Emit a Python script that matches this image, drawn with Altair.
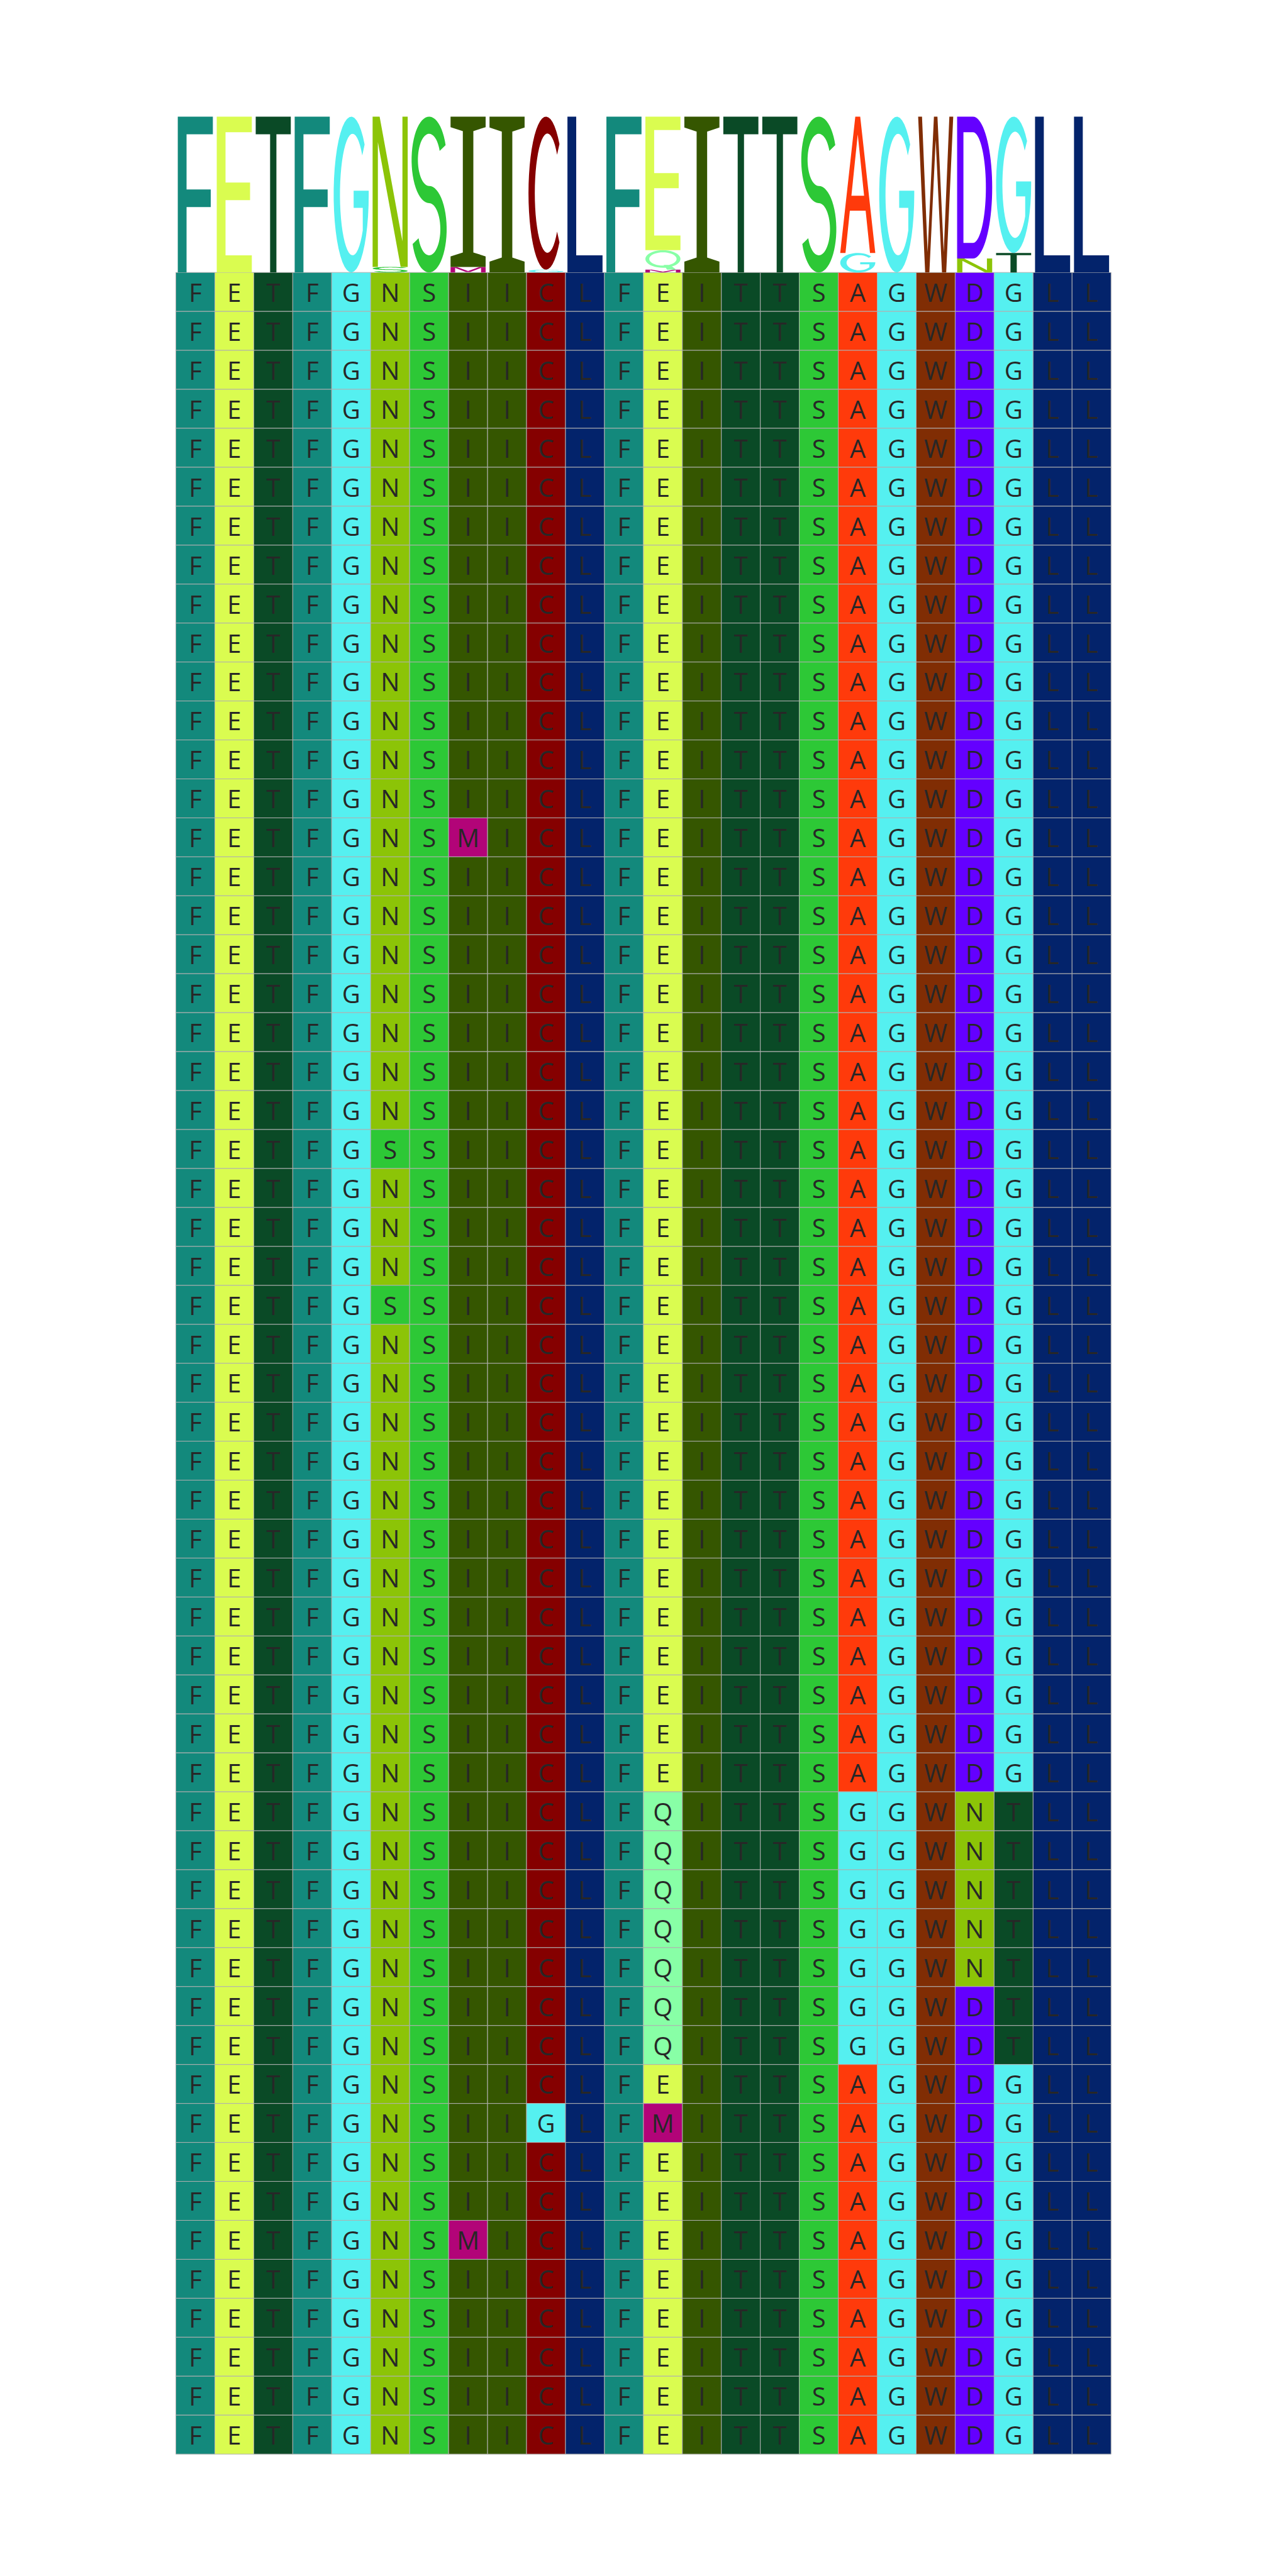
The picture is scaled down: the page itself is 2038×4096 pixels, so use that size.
import math
from collections import Counter

import altair as alt
import pandas as pd

# ---------------- data ----------------
POSITIONS = list(range(1, 25))

SEQUENCES = [
    "FETFGNSIICLFEITTSAGWDGLL",  # 1
    "FETFGNSIICLFEITTSAGWDGLL",
    "FETFGNSIICLFEITTSAGWDGLL",
    "FETFGNSIICLFEITTSAGWDGLL",
    "FETFGNSIICLFEITTSAGWDGLL",
    "FETFGNSIICLFEITTSAGWDGLL",
    "FETFGNSIICLFEITTSAGWDGLL",
    "FETFGNSIICLFEITTSAGWDGLL",
    "FETFGNSIICLFEITTSAGWDGLL",
    "FETFGNSIICLFEITTSAGWDGLL",  # 10
    "FETFGNSIICLFEITTSAGWDGLL",
    "FETFGNSIICLFEITTSAGWDGLL",
    "FETFGNSIICLFEITTSAGWDGLL",
    "FETFGNSIICLFEITTSAGWDGLL",
    "FETFGNSMICLFEITTSAGWDGLL",  # 15
    "FETFGNSIICLFEITTSAGWDGLL",
    "FETFGNSIICLFEITTSAGWDGLL",
    "FETFGNSIICLFEITTSAGWDGLL",
    "FETFGNSIICLFEITTSAGWDGLL",
    "FETFGNSIICLFEITTSAGWDGLL",  # 20
    "FETFGNSIICLFEITTSAGWDGLL",
    "FETFGNSIICLFEITTSAGWDGLL",
    "FETFGSSIICLFEITTSAGWDGLL",  # 23
    "FETFGNSIICLFEITTSAGWDGLL",
    "FETFGNSIICLFEITTSAGWDGLL",
    "FETFGNSIICLFEITTSAGWDGLL",
    "FETFGSSIICLFEITTSAGWDGLL",  # 27
    "FETFGNSIICLFEITTSAGWDGLL",
    "FETFGNSIICLFEITTSAGWDGLL",
    "FETFGNSIICLFEITTSAGWDGLL",  # 30
    "FETFGNSIICLFEITTSAGWDGLL",
    "FETFGNSIICLFEITTSAGWDGLL",
    "FETFGNSIICLFEITTSAGWDGLL",
    "FETFGNSIICLFEITTSAGWDGLL",
    "FETFGNSIICLFEITTSAGWDGLL",
    "FETFGNSIICLFEITTSAGWDGLL",
    "FETFGNSIICLFEITTSAGWDGLL",
    "FETFGNSIICLFEITTSAGWDGLL",
    "FETFGNSIICLFEITTSAGWDGLL",
    "FETFGNSIICLFQITTSGGWNTLL",  # 40
    "FETFGNSIICLFQITTSGGWNTLL",
    "FETFGNSIICLFQITTSGGWNTLL",
    "FETFGNSIICLFQITTSGGWNTLL",
    "FETFGNSIICLFQITTSGGWNTLL",
    "FETFGNSIICLFQITTSGGWDTLL",  # 45
    "FETFGNSIICLFQITTSGGWDTLL",
    "FETFGNSIICLFEITTSAGWDGLL",
    "FETFGNSIIGLFMITTSAGWDGLL",  # 48
    "FETFGNSIICLFEITTSAGWDGLL",
    "FETFGNSIICLFEITTSAGWDGLL",
    "FETFGNSMICLFEITTSAGWDGLL",  # 51
    "FETFGNSIICLFEITTSAGWDGLL",
    "FETFGNSIICLFEITTSAGWDGLL",
    "FETFGNSIICLFEITTSAGWDGLL",
    "FETFGNSIICLFEITTSAGWDGLL",
    "FETFGNSIICLFEITTSAGWDGLL",  # 56
]

# ---------------- styles ----------------
LETTER_COLORS = {
    "F": "#13897c",
    "E": "#dafc50",
    "T": "#0a4a26",
    "G": "#55f0f0",
    "N": "#8cc407",
    "S": "#2dc836",
    "I": "#355600",
    "C": "#850000",
    "L": "#03236b",
    "A": "#ff3a0b",
    "W": "#802d04",
    "D": "#6400ff",
    "Q": "#88ffa6",
    "M": "#b20478",
}

SCALE = 0.6793
CELL = 91.19 * SCALE
N_COLS = len(POSITIONS)
N_ROWS = len(SEQUENCES)
LOGO_ROWS = 4
GLYPH_W = 0.9 * CELL
LOGO_H = LOGO_ROWS * CELL
PAD_LEFT = 411.5 * SCALE
PAD_TOP = 273.0 * SCALE
PLOT_W = CELL * N_COLS
PLOT_H = CELL * (N_ROWS + LOGO_ROWS)


# ---------------- glyph outlines (unit box, v up) ----------------
def arc(cx, cy, rx, ry, a0, a1, n=40):
    pts = []
    for k in range(n + 1):
        t = math.radians(a0 + (a1 - a0) * k / n)
        pts.append((cx + rx * math.cos(t), cy + ry * math.sin(t)))
    return pts


def make_glyphs():
    g = {}
    g["F"] = [[(0, 0), (0.25, 0), (0.25, 0.42), (0.94, 0.42), (0.94, 0.533),
               (0.25, 0.533), (0.25, 0.887), (1, 0.887), (1, 1), (0, 1)]]
    g["E"] = [[(0, 0), (1, 0), (1, 0.11), (0.25, 0.11), (0.25, 0.464), (0.95, 0.464),
               (0.95, 0.577), (0.25, 0.577), (0.25, 0.9), (1, 0.9), (1, 1), (0, 1)]]
    g["T"] = [[(0, 1), (1, 1), (1, 0.887), (0.59, 0.887), (0.59, 0), (0.41, 0),
               (0.41, 0.887), (0, 0.887)]]
    g["I"] = [[(0, 1), (1, 1), (1, 0.93), (0.65, 0.904), (0.65, 0.096), (1, 0.07),
               (1, 0), (0, 0), (0, 0.07), (0.35, 0.096), (0.35, 0.904), (0, 0.93)]]
    g["L"] = [[(0, 1), (0.25, 1), (0.25, 0.11), (1, 0.11), (1, 0), (0, 0)]]
    g["N"] = [[(0, 0), (0.15, 0), (0.15, 0.83), (0.8, 0), (1, 0), (1, 1), (0.85, 1),
               (0.85, 0.17), (0.2, 1), (0, 1)]]
    g["M"] = [[(0, 0), (0.13, 0), (0.13, 0.82), (0.44, 0.08), (0.56, 0.08),
               (0.87, 0.82), (0.87, 0), (1, 0), (1, 1), (0.82, 1), (0.5, 0.26),
               (0.18, 1), (0, 1)]]
    g["W"] = [[(0, 1), (0.11, 1), (0.27, 0.13), (0.45, 1), (0.55, 1), (0.73, 0.13),
               (0.89, 1), (1, 1), (0.8, 0), (0.68, 0), (0.5, 0.85), (0.32, 0), (0.2, 0)]]
    g["A"] = [[(0, 0), (0.15, 0), (0.275, 0.31), (0.725, 0.31), (0.85, 0), (1, 0),
               (0.57, 1), (0.43, 1)],
              [(0.319, 0.42), (0.5, 0.87), (0.681, 0.42)]]
    g["D"] = [[(0, 0)] + arc(0.45, 0.5, 0.55, 0.5, -90, 90) + [(0, 1)],
              [(0.18, 0.11), (0.18, 0.89)] + arc(0.45, 0.5, 0.37, 0.39, 90, -90)]
    g["C"] = [arc(0.5, 0.5, 0.5, 0.5, 40, 320) + arc(0.54, 0.5, 0.36, 0.39, 320, 40)]
    th = math.degrees(math.acos((0.83 - 0.54) / 0.36))
    g["G"] = [arc(0.5, 0.5, 0.5, 0.5, 40, 360)
              + [(1, 0.525), (0.57, 0.525), (0.57, 0.415), (0.83, 0.415)]
              + arc(0.54, 0.5, 0.36, 0.39, 360 - th, 40)]
    ty, tx = 0.055, 0.09
    ry, rx = (0.5 - ty) / 2, 0.5 - tx
    cu, cl = 0.5 + ry, 0.5 - ry
    g["S"] = [arc(0.5, cu, rx + tx, ry + ty, 20, 270)
              + arc(0.5, cl, rx - tx, ry - ty, 90, -160)
              + arc(0.5, cl, rx + tx, ry + ty, -160, 90)
              + arc(0.5, cu, rx - tx, ry - ty, 270, 20)]
    g["Q"] = [arc(0.5, 0.55, 0.5, 0.45, 0, 360),
              arc(0.5, 0.55, 0.39, 0.34, 360, 0),
              [(0.62, 0.0), (0.88, 0.0), (0.7, 0.24), (0.52, 0.24)]]
    return g


GLYPHS = make_glyphs()


def glyph_path(letter, w, h):
    parts = []
    for contour in GLYPHS[letter]:
        pts = [f"{(u - 0.5) * w:.2f},{(0.5 - v) * h:.2f}" for u, v in contour]
        parts.append("M" + "L".join(pts) + "Z")
    return "".join(parts)


# ---------------- tables ----------------
cell_rows = []
for i, seq in enumerate(SEQUENCES):
    for j, ch in enumerate(seq):
        cell_rows.append({
            "x0": j, "x1": j + 1, "y0": i, "y1": i + 1,
            "xc": j + 0.5, "yc": i + 0.5,
            "letter": ch, "color": LETTER_COLORS[ch],
        })
cells = pd.DataFrame(cell_rows)

logo_rows = []
for j in range(N_COLS):
    counts = Counter(seq[j] for seq in SEQUENCES)
    items = sorted(counts.items(), key=lambda kv: kv[1])
    cum = 0.0
    for letter, c in items:
        frac = c / N_ROWS
        center = cum + frac / 2
        cum += frac
        logo_rows.append({
            "xc": j + 0.5,
            "yc": -LOGO_ROWS * center,
            "letter": letter,
            "color": LETTER_COLORS[letter],
            "path": glyph_path(letter, GLYPH_W, frac * LOGO_H),
        })
logo = pd.DataFrame(logo_rows)

# ---------------- chart ----------------
xs = alt.Scale(domain=[0, N_COLS], nice=False, zero=False)
ys = alt.Scale(domain=[-LOGO_ROWS, N_ROWS], reverse=True, nice=False, zero=False)

rects = alt.Chart(cells).mark_rect(stroke="#b0b0b0", strokeWidth=1).encode(
    x=alt.X("x0:Q", scale=xs, axis=None),
    x2="x1:Q",
    y=alt.Y("y0:Q", scale=ys, axis=None),
    y2="y1:Q",
    fill=alt.Fill("color:N", scale=None),
)

texts = alt.Chart(cells).mark_text(
    font="Open Sans", fontSize=40, color="#272727",
    baseline="alphabetic", align="center", dy=15.8,
).encode(
    x=alt.X("xc:Q", scale=xs, axis=None),
    y=alt.Y("yc:Q", scale=ys, axis=None),
    text="letter:N",
)

glyphs = alt.Chart(logo).mark_point(
    filled=True, opacity=1, strokeWidth=0, size=4,
).encode(
    x=alt.X("xc:Q", scale=xs, axis=None),
    y=alt.Y("yc:Q", scale=ys, axis=None),
    shape=alt.Shape("path:N", scale=None),
    color=alt.Color("color:N", scale=None),
)

chart = alt.layer(rects, texts, glyphs).properties(
    width=PLOT_W,
    height=PLOT_H,
    padding={"left": PAD_LEFT, "top": PAD_TOP,
             "right": 2038 - PAD_LEFT - PLOT_W,
             "bottom": 4096 - PAD_TOP - PLOT_H},
    autosize=alt.AutoSizeParams(type="none"),
    background="white",
).configure_view(strokeWidth=0)

chart.save("out.html", embed_options={"renderer": "svg", "actions": False})
